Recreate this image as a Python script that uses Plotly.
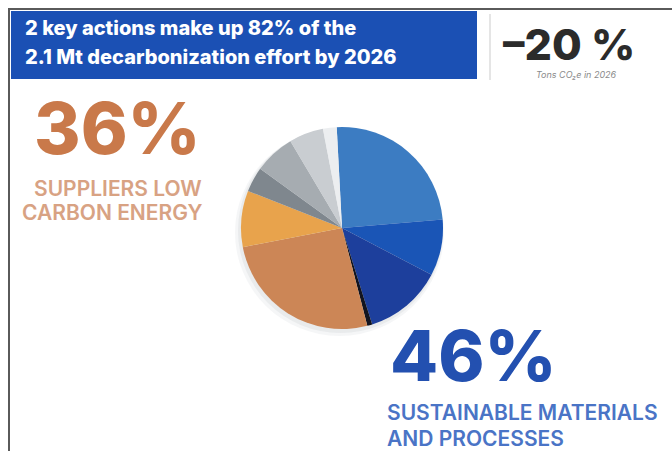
import plotly.graph_objects as go

W, H = 672, 451

# Data
slice_labels = ["Sustainable materials A", "Sustainable materials B", "Sustainable materials C",
                "Sustainable materials D", "Suppliers low carbon energy A", "Suppliers low carbon energy B",
                "Other A", "Other B", "Other C", "Other D"]
slice_values = [24.5, 9.0, 12.5, 0.8, 26.0, 9.0, 4.0, 6.5, 5.5, 2.2]
slice_colors = ["#3c7cc2", "#1a55b6", "#1d3f9c", "#121420", "#cc8656", "#e8a34c",
                "#7f878e", "#a6acb1", "#c9cdd1", "#eceef0"]

title_lines = ["2 key actions make up 82% of the", "2.1 Mt decarbonization effort by 2026"]
kpi_value = "–20 %"
kpi_note = "Tons CO₂e in 2026"
energy_pct = "36%"
energy_lines = ["SUPPLIERS LOW", "CARBON ENERGY"]
materials_pct = "46%"
materials_lines = ["SUSTAINABLE MATERIALS", "AND PROCESSES"]


def px(x):
    return x / W


def py(y):
    return 1 - y / H


FONT = "Inter"

fig = go.Figure()

# pie with centre (342, 228), radius ~101
cx, cy, r = 342, 228, 101
fig.add_trace(go.Pie(
    labels=slice_labels, values=slice_values, sort=False,
    direction="clockwise", rotation=-3,
    marker=dict(colors=slice_colors, line=dict(width=0)),
    textinfo="none", hoverinfo="label+percent", showlegend=False,
    domain=dict(x=[px(cx - r), px(cx + r)], y=[py(cy + r), py(cy - r)]),
))

shapes = [
    # soft shadow behind pie
    dict(type="circle", xref="paper", yref="paper", x0=px(cx - r - 6), x1=px(cx + r + 1),
         y0=py(cy + r + 7), y1=py(cy - r + 2), fillcolor="rgba(200,205,210,0.18)",
         line=dict(width=0), layer="below"),
    dict(type="circle", xref="paper", yref="paper", x0=px(cx - r - 3), x1=px(cx + r),
         y0=py(cy + r + 4), y1=py(cy - r + 1), fillcolor="rgba(190,195,200,0.22)",
         line=dict(width=0), layer="below"),
    # outer frame
    dict(type="line", xref="paper", yref="paper", x0=px(8), x1=px(672), y0=py(9), y1=py(9),
         line=dict(color="#5a5a5a", width=2)),
    dict(type="line", xref="paper", yref="paper", x0=px(9), x1=px(9), y0=py(9), y1=py(451),
         line=dict(color="#5a5a5a", width=2)),
    # title box
    dict(type="rect", xref="paper", yref="paper", x0=px(11), x1=px(477), y0=py(79), y1=py(11),
         fillcolor="#1b50b4", line=dict(width=0), layer="below"),
    # separator
    dict(type="line", xref="paper", yref="paper", x0=px(490), x1=px(490), y0=py(14), y1=py(80),
         line=dict(color="#dcdcdc", width=1.5)),
]

ann = []
for i, t in enumerate(title_lines):
    ann.append(dict(text=t, x=px(23), y=py(28 + 29 * i), xanchor="left", yanchor="middle",
                    font=dict(family=FONT, size=20, color="white", weight=800)))
ann.append(dict(text=kpi_value, x=px(569), y=py(44), xanchor="center", yanchor="middle",
                font=dict(family=FONT, size=43, color="#2b2b2b", weight=800)))
ann.append(dict(text="<i>" + kpi_note + "</i>", x=px(576), y=py(75), xanchor="center", yanchor="middle",
                font=dict(family=FONT, size=9, color="#8a8a8a")))
ann.append(dict(text=energy_pct, x=px(203), y=py(128), xanchor="right", yanchor="middle",
                font=dict(family=FONT, size=71, color="#c9794a", weight=800)))
for i, t in enumerate(energy_lines):
    ann.append(dict(text=t, x=px(204), y=py(188 + 24 * i), xanchor="right", yanchor="middle",
                    font=dict(family=FONT, size=21, color="#d8a283", weight=600)))
ann.append(dict(text=materials_pct, x=px(388), y=py(355), xanchor="left", yanchor="middle",
                font=dict(family=FONT, size=70, color="#2350b0", weight=800)))
for i, t in enumerate(materials_lines):
    ann.append(dict(text=t, x=px(385), y=py(412 + 26 * i), xanchor="left", yanchor="middle",
                    font=dict(family=FONT, size=21, color="#4a74c6", weight=600)))

for a in ann:
    a.update(xref="paper", yref="paper", showarrow=False)

fig.update_layout(
    width=W, height=H, margin=dict(l=0, r=0, t=0, b=0),
    paper_bgcolor="white", plot_bgcolor="white",
    shapes=shapes, annotations=ann,
)

fig.write_html("out.html")
